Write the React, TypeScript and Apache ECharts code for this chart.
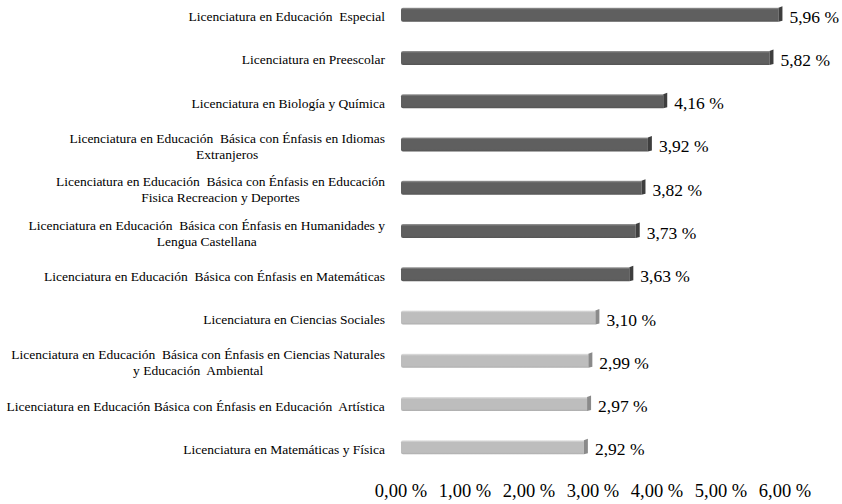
import React, { useEffect, useRef } from "react";
import * as echarts from "echarts";

const categories: string[][] = [
  ["Licenciatura en Educación  Especial"],
  ["Licenciatura en Preescolar"],
  ["Licenciatura en Biología y Química"],
  ["Licenciatura en Educación  Básica con Énfasis en Idiomas", "Extranjeros"],
  ["Licenciatura en Educación  Básica con Énfasis en Educación", "Fisica Recreacion y Deportes"],
  ["Licenciatura en Educación  Básica con Énfasis en Humanidades y", "Lengua Castellana"],
  ["Licenciatura en Educación  Básica con Énfasis en Matemáticas"],
  ["Licenciatura en Ciencias Sociales"],
  ["Licenciatura en Educación  Básica con Énfasis en Ciencias Naturales", "y Educación  Ambiental"],
  ["Licenciatura en Educación Básica con Énfasis en Educación  Artística"],
  ["Licenciatura en Matemáticas y Física"],
];
const values: number[] = [5.96, 5.82, 4.16, 3.92, 3.82, 3.73, 3.63, 3.1, 2.99, 2.97, 2.92];
const shade: string[] = ["dark", "dark", "dark", "dark", "dark", "dark", "dark", "light", "light", "light", "light"];

const FONT = "'Liberation Serif', 'Times New Roman', serif";
const fmt = (v: number) => v.toFixed(2).replace(".", ",") + " %";

export default function App() {
  const ref = useRef<HTMLDivElement>(null);
  useEffect(() => {
    if (!ref.current) return;
    const chart = echarts.init(ref.current, undefined, { renderer: "svg" });
    const labels = categories.map((c) => c.join("\n"));
    chart.setOption({
      animation: false,
      backgroundColor: "#ffffff",
      textStyle: { fontFamily: FONT },
      grid: { left: 401, right: 57, top: 0, bottom: 35, containLabel: false },
      xAxis: {
        type: "value",
        min: 0,
        max: 6,
        interval: 1,
        axisLine: { show: false },
        axisTick: { show: false },
        splitLine: { show: false },
        axisLabel: {
          formatter: (v: number) => fmt(v),
          fontFamily: FONT,
          fontSize: 18.5,
          color: "#000",
          margin: 12,
        },
      },
      yAxis: {
        type: "category",
        inverse: true,
        data: labels,
        axisLine: { show: false },
        axisTick: { show: false },
        axisLabel: {
          fontFamily: FONT,
          fontSize: 13.5,
          color: "#000",
          margin: 16,
          lineHeight: 16,
          verticalAlign: "middle",
          padding: [4, 0, 0, 0],
          formatter: (v: string) =>
            v
              .split("\n")
              .map((l) => "{c|" + l + "}")
              .join("\n"),
          rich: {
            c: { align: "center", fontFamily: FONT, fontSize: 13.5, lineHeight: 16, color: "#000" },
          },
        },
      },
      series: [
        {
          type: "bar",
          data: values,
          barWidth: 14,
          itemStyle: { color: "rgba(0,0,0,0)" },
          label: {
            show: true,
            position: "right",
            distance: 7,
            formatter: (p: any) => fmt(p.value),
            fontFamily: FONT,
            fontSize: 17.5,
            color: "#000",
            offset: [0, 2],
          },
          z: 3,
        },
        {
          type: "custom",
          data: values.map((v, i) => [v, i]),
          encode: { x: 0, y: 1 },
          z: 2,
          renderItem: (params: any, api: any) => {
            const v = api.value(0);
            const idx = api.value(1);
            const s = api.coord([0, idx]);
            const e = api.coord([v, idx]);
            const h = 14;
            const x0 = s[0];
            const x1 = e[0];
            const y = s[1] - h / 2;
            const light = shade[idx] === "light";
            const body = light ? "#bdbdbd" : "#5f5f5f";
            const top = light ? "#e2e2e2" : "#9a9a9a";
            const side = light ? "#8a8a8a" : "#3e3e3e";
            const cap = 4;
            return {
              type: "group",
              children: [
                {
                  type: "rect",
                  shape: { x: x0, y: y, width: x1 - x0 - cap, height: h, r: [2, 0, 0, 2] },
                  style: {
                    fill: new echarts.graphic.LinearGradient(0, 0, 0, 1, [
                      { offset: 0, color: top },
                      { offset: 0.15, color: body },
                      { offset: 0.85, color: body },
                      { offset: 1, color: light ? "#adadad" : "#555" },
                    ]),
                  },
                },
                {
                  type: "polygon",
                  shape: {
                    points: [
                      [x1 - cap, y],
                      [x1, y - 1.5],
                      [x1, y + h - 1],
                      [x1 - cap, y + h],
                    ],
                  },
                  style: { fill: side },
                },
              ],
            };
          },
        },
      ],
    });
    return () => chart.dispose();
  }, []);
  return (
    <div
      ref={ref}
      style={{ position: "absolute", left: 0, top: -7, width: 842, height: 511 }}
    />
  );
}
